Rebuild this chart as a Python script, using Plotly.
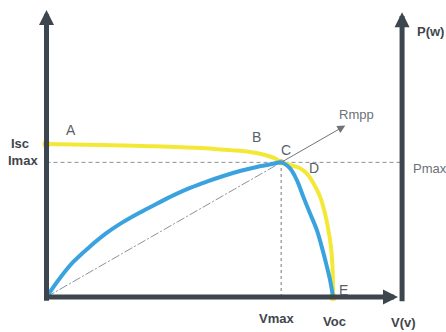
import plotly.graph_objects as go

# ---------------- data ----------------
# I-V characteristic (yellow): voltage [V], current [A]
iv_voltage = [0, 3.92, 7.59, 11.25, 13.45, 14.92, 16.02, 16.75, 17.2, 17.85, 18.58,
              19.07, 19.56, 20.05, 20.41, 20.66, 20.85, 20.95, 20.99, 21.0]
iv_current = [5.00, 4.97, 4.93, 4.87, 4.80, 4.74, 4.64, 4.53, 4.40, 4.31, 4.21,
              4.04, 3.72, 3.28, 2.73, 2.19, 1.64, 1.10, 0.56, 0.0]

# P-V characteristic (blue): voltage [V], power [W]
pv_voltage = [0, 0.99, 1.96, 3.19, 4.41, 5.63, 6.85, 8.08, 9.29, 10.52, 11.74, 12.96,
              14.18, 15.41, 16.62, 17.2, 17.85, 18.34, 18.82, 19.31, 19.81, 20.17,
              20.49, 20.78, 21.0]
pv_power = [0, 10.7, 19.7, 28.4, 36.0, 42.2, 47.5, 52.4, 57.1, 61.3, 64.8, 68.0,
            70.8, 73.1, 74.9, 75.68, 72.3, 65.8, 56.4, 47.1, 37.7, 28.3,
            18.9, 9.6, 0]

V_MAX = 17.2     # voltage at maximum power point
V_OC = 21.0      # open-circuit voltage
I_SC = 5.0       # short-circuit current
I_MAX = 4.4      # current at maximum power point
P_MAX = 75.68    # maximum power
V_AXIS_END = 25.76   # tip of the V arrow
P_AXIS_POS = 26.06   # position of the P axis on V scale
I_AXIS_TOP = 9.38
P_AXIS_TOP = 160.1
RMPP_TIP_V = 21.9

point_labels = ["A", "B", "C", "D", "E"]

# ---------------- styles ----------------
W, H = 446, 332
AX = "#3d454e"
YEL = "#f4e836"
BLU = "#3aa3df"
GRID = "#8a8f95"
P_SCALE = P_MAX / I_MAX

def px(x, y):
    return dict(x=x / W, y=1 - y / H, xref="paper", yref="paper")

fig = go.Figure()

# dashed Imax / Pmax line
fig.add_trace(go.Scatter(x=[0, P_AXIS_POS], y=[I_MAX, I_MAX], mode="lines",
                         line=dict(color=GRID, width=1, dash="4px,3px"),
                         hoverinfo="skip", showlegend=False))
# dotted Vmax line
fig.add_trace(go.Scatter(x=[V_MAX, V_MAX], y=[0, I_MAX], mode="lines",
                         line=dict(color=GRID, width=1.2, dash="dot"),
                         hoverinfo="skip", showlegend=False))
# Rmpp line
fig.add_trace(go.Scatter(x=[0, V_MAX], y=[0, I_MAX], mode="lines",
                         line=dict(color="#8d9298", width=1, dash="9px,2px,2px,2px"),
                         hoverinfo="skip", showlegend=False))

# P-V curve
fig.add_trace(go.Scatter(x=pv_voltage, y=pv_power, yaxis="y2", mode="lines",
                         line=dict(color=BLU, width=4, shape="spline", smoothing=1),
                         hoverinfo="skip", showlegend=False))
# I-V curve
fig.add_trace(go.Scatter(x=iv_voltage, y=iv_current, mode="lines",
                         line=dict(color=YEL, width=4, shape="spline", smoothing=1),
                         hoverinfo="skip", showlegend=False))
# end blobs
fig.add_trace(go.Scatter(x=[iv_voltage[0], iv_voltage[-1]], y=[iv_current[0], iv_current[-1]],
                         mode="markers", marker=dict(color=YEL, size=8),
                         hoverinfo="skip", showlegend=False))
fig.add_trace(go.Scatter(x=[V_MAX], y=[I_MAX], mode="markers",
                         marker=dict(color="#c9b84a", size=6),
                         hoverinfo="skip", showlegend=False))

annotations = []
# axes arrows
annotations.append(dict(x=0, y=I_AXIS_TOP, ax=0, ay=-0.17, xref="x", yref="y",
                        axref="x", ayref="y", showarrow=True, arrowhead=2,
                        arrowsize=0.6, arrowwidth=5, arrowcolor=AX, text=""))
annotations.append(dict(x=V_AXIS_END, y=0, ax=-0.17, ay=0, xref="x", yref="y",
                        axref="x", ayref="y", showarrow=True, arrowhead=2,
                        arrowsize=0.6, arrowwidth=5, arrowcolor=AX, text=""))
annotations.append(dict(x=P_AXIS_POS, y=P_AXIS_TOP, ax=P_AXIS_POS, ay=-3.2, xref="x", yref="y2",
                        axref="x", ayref="y2", showarrow=True, arrowhead=2,
                        arrowsize=0.6, arrowwidth=5, arrowcolor=AX, text=""))
# Rmpp arrow
annotations.append(dict(x=RMPP_TIP_V, y=RMPP_TIP_V * I_MAX / V_MAX, ax=V_MAX, ay=I_MAX,
                        xref="x", yref="y", axref="x", ayref="y", showarrow=True,
                        arrowhead=2, arrowsize=1.6, arrowwidth=1, arrowcolor="#6f747a", text=""))

bold = dict(family="Liberation Sans, Arial, sans-serif", size=13, color="#41464d")
thin = dict(family="Liberation Sans, Arial, sans-serif", size=14, color="#5a5f66")
small = dict(family="Liberation Sans, Arial, sans-serif", size=13, color="#6c7177")

def lab(text, x, y, font, xanchor="center"):
    d = px(x, y)
    d.update(text=text, showarrow=False, font=font, xanchor=xanchor, yanchor="middle")
    annotations.append(d)

lab("<b>Isc</b>", 20, 143, bold)
lab("<b>Imax</b>", 23, 160, bold)
lab("<b>Vmax</b>", 276, 318, bold)
lab("<b>Voc</b>", 334, 321, bold)
lab("<b>V(v)</b>", 403, 322, bold)
lab("<b>P(w)</b>", 430, 32, bold)
for t, (x, y) in zip(point_labels, [(71, 130), (256, 137), (286, 150), (314, 168), (343, 290)]):
    lab(t, x, y, thin)
lab("Rmpp", 356, 115, small)
lab("Pmax", 411, 168, small, xanchor="left")

fig.update_layout(
    width=W, height=H, margin=dict(l=0, r=0, t=0, b=0),
    paper_bgcolor="white", plot_bgcolor="white",
    xaxis=dict(range=[-3.408, 29.28], visible=False, fixedrange=True),
    yaxis=dict(range=[-1.144, 9.706], visible=False, fixedrange=True),
    yaxis2=dict(range=[-1.144 * P_SCALE, 9.706 * P_SCALE], visible=False,
                overlaying="y", fixedrange=True),
    annotations=annotations,
    showlegend=False,
)

fig.write_html("out.html", config={"displayModeBar": False},
               post_script="document.body.style.margin='0px';document.body.style.overflow='hidden';")
